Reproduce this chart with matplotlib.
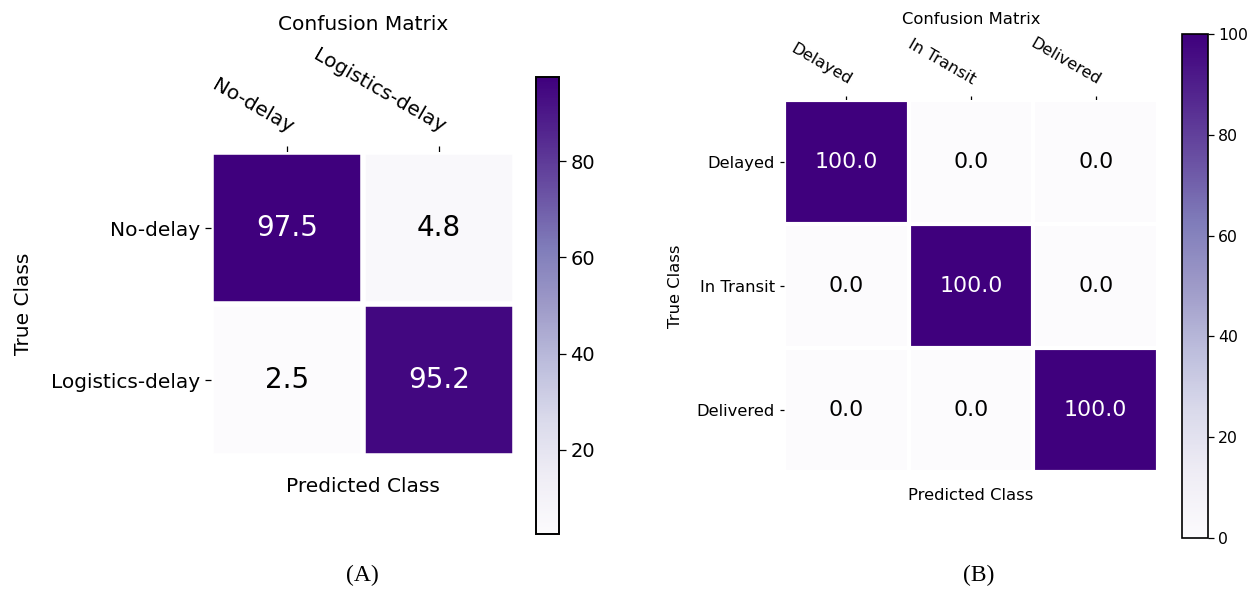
import numpy as np
import matplotlib
matplotlib.use("Agg")
import matplotlib.pyplot as plt

plt.rcParams["font.family"] = ["DejaVu Sans"]

# Panel A: two-class delay prediction (percent)
classes_a = ["No-delay", "Logistics-delay"]
values_a = np.array([[97.5, 4.8],
                     [2.5, 95.2]])

# Panel B: three-class shipment status (percent)
classes_b = ["Delayed", "In Transit", "Delivered"]
values_b = np.array([[100.0, 0.0, 0.0],
                     [0.0, 100.0, 0.0],
                     [0.0, 0.0, 100.0]])

W, H = 1255, 592
fig = plt.figure(figsize=(W / 100, H / 100), dpi=100)


def frac(x0, y0, x1, y1):
    """Pixel box (top-left origin) -> figure fraction rect."""
    return [x0 / W, (H - y1) / H, (x1 - x0) / W, (y1 - y0) / H]


def draw_matrix(ax, cax, data, labels, fs, annot_fs, grid_lw, tick_len,
                xpad, title_y, xlabel_y, ylabel_x, cbar_lw):
    n = len(labels)
    im = ax.imshow(data, cmap="Purples", aspect="auto")
    cb = fig.colorbar(im, cax=cax)
    cb.outline.set_linewidth(cbar_lw)
    cb.ax.tick_params(labelsize=fs - 0.5, length=tick_len + 1, width=0.9)

    ax.set_xticks(np.arange(n))
    ax.set_yticks(np.arange(n))
    ax.set_xticklabels(labels, fontsize=fs)
    ax.set_yticklabels(labels, fontsize=fs)
    ax.tick_params(top=True, bottom=False, labeltop=True, labelbottom=False,
                   length=tick_len, width=0.9)
    ax.tick_params(axis="x", pad=xpad)
    plt.setp(ax.get_xticklabels(), rotation=-30, ha="right",
             rotation_mode="anchor")

    for s in ax.spines.values():
        s.set_visible(False)
    ax.set_xticks(np.arange(n + 1) - 0.5, minor=True)
    ax.set_yticks(np.arange(n + 1) - 0.5, minor=True)
    ax.grid(which="minor", color="w", linestyle="-", linewidth=grid_lw)
    ax.tick_params(which="minor", top=False, bottom=False, left=False)

    thresh = (data.max() + data.min()) / 2
    for i in range(n):
        for j in range(n):
            ax.text(j, i, f"{data[i, j]:.1f}", ha="center", va="center",
                    fontsize=annot_fs,
                    color="white" if data[i, j] > thresh else "black")

    ax.set_title("Confusion Matrix", fontsize=fs, y=title_y, va="center",
                 pad=0)
    ax.set_xlabel("Predicted Class", fontsize=fs)
    ax.xaxis.set_label_coords(0.5, xlabel_y)
    ax.xaxis.label.set_va("center")
    ax.set_ylabel("True Class", fontsize=fs)
    ax.yaxis.set_label_coords(ylabel_x, 0.5)
    ax.yaxis.label.set_va("center")


# Panel A
ax_a = fig.add_axes(frac(211, 152, 515, 456))
cax_a = fig.add_axes(frac(535.5, 77, 558.5, 534))
draw_matrix(ax_a, cax_a, values_a, classes_a, fs=14.5, annot_fs=20,
            grid_lw=4, tick_len=4, xpad=7, title_y=(456 - 24) / 304,
            xlabel_y=(456 - 487) / 304, ylabel_x=(23 - 211) / 304,
            cbar_lw=1.4)
cax_a.set_yticks([20, 40, 60, 80])

# Panel B
ax_b = fig.add_axes(frac(784, 100, 1158, 472))
cax_b = fig.add_axes(frac(1182, 34, 1207.5, 538))
draw_matrix(ax_b, cax_b, values_b, classes_b, fs=11.8, annot_fs=15.8,
            grid_lw=3, tick_len=3, xpad=6, title_y=(472 - 19) / 372,
            xlabel_y=(472 - 495) / 372, ylabel_x=(676 - 784) / 374,
            cbar_lw=1.2)
cax_b.set_yticks([0, 20, 40, 60, 80, 100])

# Panel captions
fig.text(362 / W, (H - 575) / H, "(A)", ha="center", va="center",
         fontsize=17, family="Liberation Serif")
fig.text(979 / W, (H - 575) / H, "(B)", ha="center", va="center",
         fontsize=17, family="Liberation Serif")

fig.savefig("out.png", dpi=100)
